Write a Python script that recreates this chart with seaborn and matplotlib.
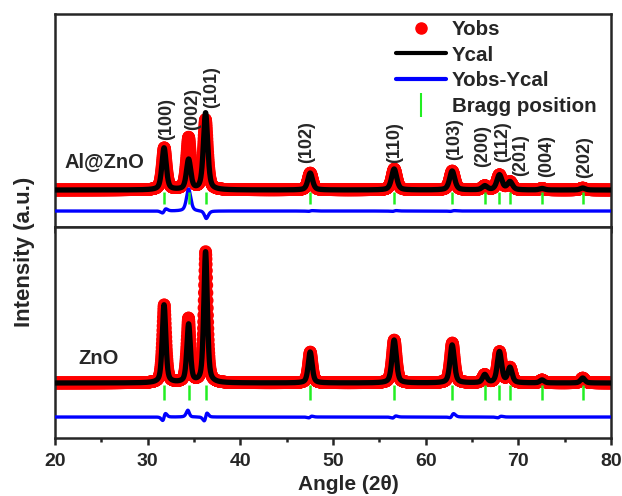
import numpy as np
import pandas as pd
import seaborn as sns
import matplotlib
matplotlib.use("Agg")
import matplotlib.pyplot as plt
from matplotlib.lines import Line2D
from matplotlib.ticker import MultipleLocator

# +---------------------+
# | Datos (leidos)      |
# +---------------------+
hkl = ['(100)', '(002)', '(101)', '(102)', '(110)', '(103)', '(200)', '(112)', '(201)', '(004)', '(202)']
bragg = [31.77, 34.42, 36.25, 47.54, 56.60, 62.86, 66.38, 67.96, 69.10, 72.56, 76.95]
hkl_x = [32.1, 34.8, 36.9, 47.2, 56.7, 63.1, 66.2, 68.3, 70.3, 73.1, 77.2]
hkl_y = [87, 97, 119, 64, 64, 67, 60, 65, 51, 50, 49]

# Al@ZnO
al_cal = [42, 30, 77, 17, 21, 19, 4, 15, 8, 1.5, 2]
al_obs = [42, 52, 70, 17, 21, 19, 4, 15, 8, 1.5, 2]
al_pos_obs = [31.79, 34.42, 36.24, 47.55, 56.61, 62.87, 66.38, 67.96, 69.10, 72.56, 76.95]
al_fwhm = [0.55, 0.55, 0.55, 0.6, 0.65, 0.65, 0.65, 0.65, 0.65, 0.65, 0.65]
al_base, al_dif = 37, 16

# ZnO
zn_cal = [78, 58, 131, 31, 43, 38, 8, 31, 15, 3, 5]
zn_obs = [78, 64, 131, 31, 43, 40, 8, 31, 15, 3, 5]
zn_pos_obs = [31.785, 34.41, 36.26, 47.55, 56.61, 62.88, 66.38, 67.97, 69.10, 72.56, 76.95]
zn_fwhm = [0.45, 0.45, 0.45, 0.5, 0.55, 0.55, 0.55, 0.55, 0.55, 0.55, 0.55]
zn_base, zn_dif = 55, 21

x = np.arange(20, 80.001, 0.02)


def perfil(pos, alt, fwhm, base):
    y = np.full_like(x, float(base))
    for p, h, w in zip(pos, alt, fwhm):
        d = (x - p) / (w / 2)
        y += h * (0.5 / (1 + d**2) + 0.5 * np.exp(-np.log(2) * d**2))
    return y


sns.set_style('ticks')
plt.rcParams['font.family'] = ['Liberation Sans', 'DejaVu Sans']
plt.rcParams['font.weight'] = 'bold'
plt.rcParams['axes.linewidth'] = 1.8

fig = plt.figure(figsize=(6.22, 4.96), dpi=100)
ax1 = fig.add_axes([0.0884, 0.5423, 0.8939, 0.4294])
ax2 = fig.add_axes([0.0884, 0.1169, 0.8939, 0.4254])

paneles = [
    (ax1, al_cal, al_obs, al_pos_obs, al_fwhm, al_base, al_dif, 213, 'Al@ZnO', (21.0, 65), (23, 35)),
    (ax2, zn_cal, zn_obs, zn_pos_obs, zn_fwhm, zn_base, zn_dif, 211, 'ZnO', (22.5, 80), (38, 53)),
]

for ax, cal, obs, pobs, fw, base, dif, ytop, nombre, pos_txt, bt in paneles:
    ycal = perfil(bragg, cal, fw, base)
    yobs = perfil(pobs, obs, fw, base)
    df = pd.DataFrame({'x': x, 'yobs': yobs, 'ycal': ycal, 'dif': yobs - ycal + dif})
    sns.scatterplot(data=df, x='x', y='yobs', ax=ax, color='#ff0000', s=80,
                    edgecolor='none', linewidth=0, zorder=2)
    sns.lineplot(data=df, x='x', y='ycal', ax=ax, color='black', lw=3.8,
                 estimator=None, zorder=3)
    sns.lineplot(data=df, x='x', y='dif', ax=ax, color='#0000ff', lw=2.4,
                 estimator=None, zorder=3)
    ax.vlines(bragg, bt[0], bt[1], color='#22ee22', lw=1.8, zorder=4)
    ax.text(pos_txt[0], pos_txt[1], nombre, fontsize=14.5, fontweight='bold', va='center')
    ax.set_xlim(20, 80)
    ax.set_ylim(0, ytop)
    ax.set_yticks([])
    ax.set_xlabel('')
    ax.set_ylabel('')
    for s in ax.spines.values():
        s.set_visible(True)
        s.set_linewidth(1.8)

for etiqueta, hx, hy in zip(hkl, hkl_x, hkl_y):
    ax1.text(hx, hy, etiqueta, rotation=90, ha='center', va='bottom',
             fontsize=13, fontweight='bold')

ax1.xaxis.set_major_locator(MultipleLocator(10))
ax1.tick_params(axis='x', direction='out', length=4, width=1.8, labelbottom=False)

ax2.xaxis.set_major_locator(MultipleLocator(10))
ax2.xaxis.set_minor_locator(MultipleLocator(5))
ax2.tick_params(axis='x', which='major', direction='out', length=5, width=1.8, labelsize=14, pad=6)
ax2.tick_params(axis='x', which='minor', direction='out', length=3, width=1.8)
for t in ax2.get_xticklabels():
    t.set_fontweight('bold')

fig.text(348 / 622, 1 - 484 / 496, 'Angle (2θ)', ha='center', va='center',
         fontsize=15, fontweight='bold')
fig.text(25 / 622, 1 - 252 / 496, 'Intensity (a.u.)', rotation=90, ha='center', va='center',
         fontsize=16, fontweight='bold')

handles = [
    Line2D([], [], color='#ff0000', marker='o', ls='none', markersize=8),
    Line2D([], [], color='black', lw=3),
    Line2D([], [], color='#0000ff', lw=3),
    Line2D([], [], color='#22ee22', marker='|', ls='none', markersize=17, markeredgewidth=1.5),
]
ax1.legend(handles, ['Yobs', 'Ycal', 'Yobs-Ycal', 'Bragg position'], loc='upper right',
           bbox_to_anchor=(1.0, 1.04), frameon=False, handlelength=2.4,
           handletextpad=0.3, labelspacing=0.33, borderpad=0.2,
           prop={'weight': 'bold', 'size': 14.8})

fig.savefig('out.png', dpi=100)
